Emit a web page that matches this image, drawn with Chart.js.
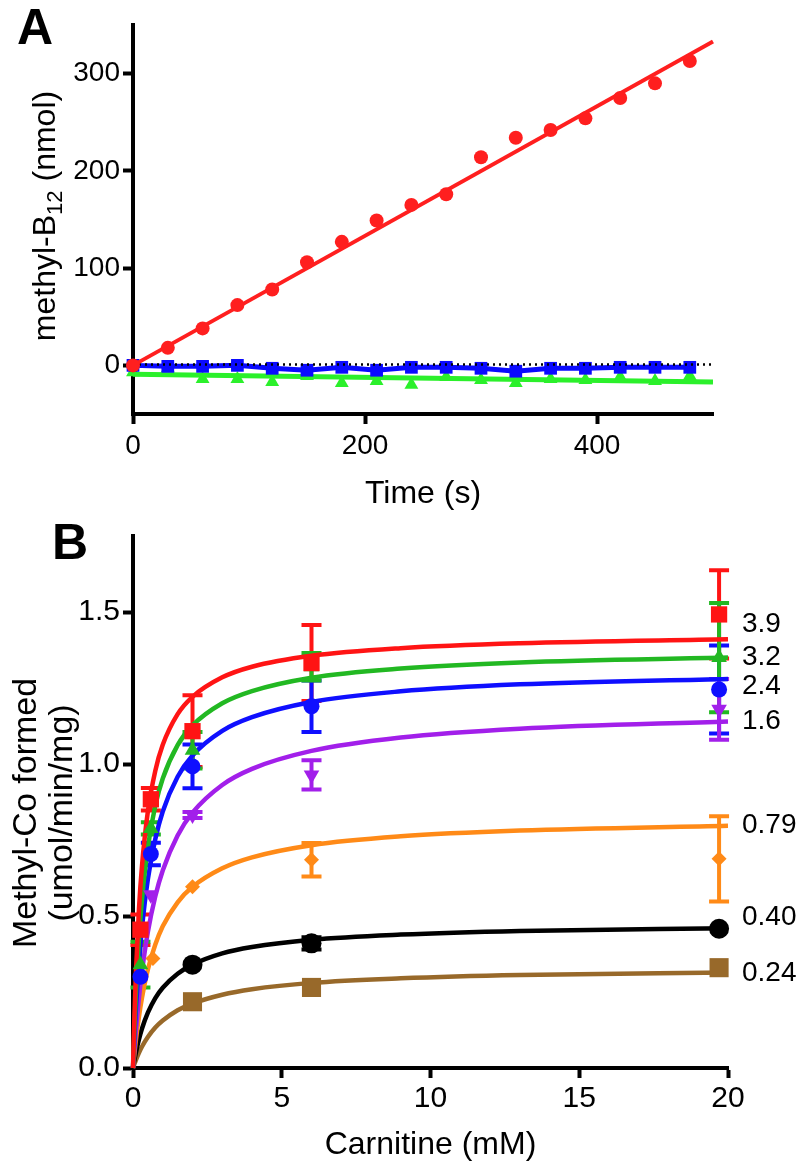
<!DOCTYPE html>
<html>
<head>
<meta charset="utf-8">
<script src="https://cdn.jsdelivr.net/npm/chart.js@4.4.0/dist/chart.umd.min.js"></script>
<style>
  body { margin: 0; background: #fff; width: 798px; height: 1162px; overflow: hidden; position: relative; }
  canvas { position: absolute; left: 0; }
  #chartA { top: 0; }
  #chartB { top: 515px; }
</style>
</head>
<body>
<canvas id="chartA" width="798" height="515"></canvas>
<canvas id="chartB" width="798" height="647"></canvas>
<script>
// ---- Panel A data: time course ----
const timeS = [0, 30, 60, 90, 120, 150, 180, 210, 240, 270, 300, 330, 360, 390, 420, 450, 480];
const redNmol = [0, 18, 38, 62, 78, 106, 127, 149, 165, 176, 214, 234, 242, 254, 275, 290, 313];
const blueNmol = [0, -1, -1, 0, -3, -5, -2, -5, -2, -2, -3, -6, -3, -3, -2, -2, -2];
const greenNmol = [-7, -3, -14, -14, -17, -11, -18, -16, -20, -12, -15, -18, -14, -15, -12, -16, -11];
const fitX = [0, 500];
const redFit = [0, 333];
const greenFit = [-9, -17];
const zeroLine = [1, 1];
const yTicksA = [0, 100, 200, 300];
const xTicksA = [0, 200, 400];

// ---- Panel B data: carnitine saturation ----
const concA = [0.25, 0.6, 2, 6, 19.7];
const red39 = [0.455, 0.884, 1.108, 1.332, 1.492];
const red39Err = [0.05, 0.037, 0.118, 0.125, 0.145];
const green32 = [0.34, 0.788, 1.045, 1.32, 1.35];
const green32Err = [0.075, 0.02, 0.06, 0.045, 0.18];
const blue24 = [0.30, 0.704, 0.992, 1.19, 1.245];
const blue24Err = [0, 0.037, 0.072, 0.085, 0.145];
const concP = [0.6, 2, 6, 19.7];
const purple16 = [0.57, 0.832, 0.964, 1.18];
const purple16Err = [0, 0.01, 0.048, 0.1];
const concO = [0.67, 2, 6, 19.7];
const orange079 = [0.36, 0.596, 0.685, 0.688];
const orange079Err = [0, 0, 0.055, 0.14];
const concK = [2, 6, 19.7];
const black040 = [0.34, 0.41, 0.458];
const black040Err = [0, 0.02, 0];
const brown024 = [0.218, 0.265, 0.33];

// fitted curves
const curveX = [0, 0.05, 0.1, 0.2, 0.3, 0.5, 0.75, 1, 1.5, 2, 3, 4, 6, 9, 13, 20];
const redCurve = [0, 0.179, 0.319, 0.522, 0.662, 0.844, 0.978, 1.063, 1.164, 1.221, 1.285, 1.320, 1.356, 1.381, 1.397, 1.410];
const greenCurve = [0, 0.138, 0.251, 0.425, 0.552, 0.726, 0.863, 0.952, 1.062, 1.127, 1.200, 1.240, 1.284, 1.314, 1.334, 1.350];
const blueCurve = [0, 0.108, 0.199, 0.346, 0.459, 0.621, 0.753, 0.844, 0.958, 1.028, 1.109, 1.154, 1.204, 1.239, 1.262, 1.280];
const purpleCurve = [0, 0.068, 0.128, 0.231, 0.316, 0.448, 0.565, 0.650, 0.765, 0.840, 0.931, 0.984, 1.043, 1.087, 1.116, 1.140];
const orangeCurve = [0, 0.050, 0.094, 0.169, 0.230, 0.324, 0.406, 0.466, 0.545, 0.596, 0.657, 0.693, 0.733, 0.762, 0.781, 0.797];
const blackCurve = [0, 0.028, 0.052, 0.094, 0.129, 0.182, 0.230, 0.264, 0.310, 0.340, 0.377, 0.398, 0.422, 0.439, 0.451, 0.460];
const brownCurve = [0, 0.014, 0.027, 0.050, 0.070, 0.102, 0.133, 0.156, 0.190, 0.212, 0.241, 0.259, 0.280, 0.295, 0.306, 0.314];

const endLabels = ['3.9', '3.2', '2.4', '1.6', '0.79', '0.40', '0.24'];
const endLabelY = [1.46, 1.35, 1.255, 1.14, 0.80, 0.495, 0.31];
const yTicksB = [0, 0.5, 1, 1.5];
const xTicksB = [0, 5, 10, 15, 20];

const FONT = "'Liberation Sans', Arial, Helvetica, sans-serif";
Chart.defaults.font.family = FONT;
Chart.defaults.color = '#000';

const pts = (xs, ys) => xs.map((x, i) => ({ x: x, y: ys[i] }));

function axisStyle(size, pad, cb) {
    const ticks = { font: { size: size }, color: '#000', padding: pad, maxRotation: 0, autoSkip: false };
    if (cb) ticks.callback = cb;
    return {
        grid: { display: true, drawOnChartArea: false, drawTicks: true, tickLength: 10, tickWidth: 4, tickColor: '#000' },
        border: { display: true, width: 4, color: '#000' },
        ticks: ticks
    };
}

// error bars drawn under the markers
const errorBars = {
    id: 'errorBars',
    beforeDatasetsDraw(chart) {
        const { ctx, scales: { x, y } } = chart;
        chart.data.datasets.forEach(ds => {
            if (!ds.errY) return;
            ctx.save();
            ctx.strokeStyle = ds.pointBackgroundColor;
            ctx.lineWidth = 4;
            ds.data.forEach((p, i) => {
                const e = ds.errY[i];
                if (!e) return;
                const px = x.getPixelForValue(p.x);
                const top = y.getPixelForValue(p.y + e);
                const bot = y.getPixelForValue(p.y - e);
                ctx.beginPath();
                ctx.moveTo(px, top); ctx.lineTo(px, bot);
                ctx.moveTo(px - 10, top); ctx.lineTo(px + 10, top);
                ctx.moveTo(px - 10, bot); ctx.lineTo(px + 10, bot);
                ctx.stroke();
            });
            ctx.restore();
        });
    }
};

// Panel A extras: letter and y title with subscript
const panelAText = {
    id: 'panelAText',
    afterDraw(chart) {
        const ctx = chart.ctx;
        ctx.save();
        ctx.fillStyle = '#000';
        ctx.font = 'bold 50px ' + FONT;
        ctx.textBaseline = 'alphabetic';
        ctx.fillText('A', 17, 44);

        ctx.translate(44, 216);
        ctx.rotate(-Math.PI / 2);
        const big = '32px ' + FONT, small = '22px ' + FONT;
        ctx.font = big;
        const w1 = ctx.measureText('methyl-B').width;
        const w3 = ctx.measureText(' (nmol)').width;
        ctx.font = small;
        const w2 = ctx.measureText('12').width;
        let sx = -(w1 + w2 + w3) / 2;
        ctx.font = big;
        ctx.fillText('methyl-B', sx, 11);
        ctx.font = small;
        ctx.fillText('12', sx + w1, 18);
        ctx.font = big;
        ctx.fillText(' (nmol)', sx + w1 + w2, 11);
        ctx.restore();
    }
};

new Chart(document.getElementById('chartA'), {
    type: 'scatter',
    data: {
        datasets: [
            { data: pts(timeS, redNmol), pointStyle: 'circle', pointRadius: 7, pointBackgroundColor: '#ff1f1f', pointBorderWidth: 0, showLine: false, clip: false },
            { data: pts(fitX, redFit), showLine: true, pointRadius: 0, borderColor: '#ff1f1f', borderWidth: 4, clip: false },
            { data: pts(fitX, zeroLine), showLine: true, pointRadius: 0, borderColor: '#000', borderWidth: 2.5, borderDash: [2, 4], clip: false },
            { data: pts(timeS, blueNmol), pointStyle: 'rect', pointRadius: 9, pointBackgroundColor: '#0a0aff', pointBorderWidth: 0, borderColor: '#0a0aff', borderWidth: 5, showLine: true, clip: false, tension: 0 },
            { data: pts(timeS, greenNmol), pointStyle: 'triangle', pointRadius: 8, pointBackgroundColor: '#2bf02b', pointBorderWidth: 0, showLine: false, clip: false },
            { data: pts(fitX, greenFit), showLine: true, pointRadius: 0, borderColor: '#2bf02b', borderWidth: 5, clip: false }
        ]
    },
    options: {
        responsive: false,
        animation: false,
        events: [],
        layout: { padding: { top: 25, right: 85, left: 0, bottom: 0 } },
        plugins: { legend: { display: false }, tooltip: { enabled: false } },
        scales: {
            x: Object.assign(axisStyle(28, 5), {
                type: 'linear', min: 0, max: 500,
                afterBuildTicks: s => { s.ticks = xTicksA.map(v => ({ value: v })); },
                afterFit: s => { s.height = 101; },
                title: { display: true, text: 'Time (s)', font: { size: 32, lineHeight: 1 }, padding: { top: 0, bottom: 5 }, color: '#000' }
            }),
            y: Object.assign(axisStyle(28, 3), {
                type: 'linear', min: -50, max: 350,
                afterBuildTicks: s => { s.ticks = yTicksA.map(v => ({ value: v })); },
                afterFit: s => { s.width = 133; }
            })
        }
    },
    plugins: [panelAText]
});

// Panel B extras: letter, two-line y title, curve labels
const panelBText = {
    id: 'panelBText',
    afterDraw(chart) {
        const { ctx, chartArea, scales: { y } } = chart;
        ctx.save();
        ctx.fillStyle = '#000';
        ctx.font = 'bold 50px ' + FONT;
        ctx.textBaseline = 'alphabetic';
        ctx.fillText('B', 52, 44);

        ctx.font = '28px ' + FONT;
        ctx.textAlign = 'left';
        ctx.textBaseline = 'middle';
        endLabels.forEach((t, i) => {
            ctx.fillText(t, chartArea.right + 14, y.getPixelForValue(endLabelY[i]));
        });

        ctx.save();
        ctx.translate(0, 298);
        ctx.rotate(-Math.PI / 2);
        ctx.font = '34px ' + FONT;
        ctx.textAlign = 'center';
        ctx.fillText('Methyl-Co formed', 0, 27);
        ctx.fillText('(umol/min/mg)', 0, 63);
        ctx.restore();
        ctx.restore();
    }
};

function curve(ys, color) {
    return { data: pts(curveX, ys), showLine: true, pointRadius: 0, borderColor: color, borderWidth: 4.5, cubicInterpolationMode: 'monotone', clip: false };
}
function marks(xs, ys, errs, color, style, r, rot) {
    return { data: pts(xs, ys), errY: errs, showLine: false, pointStyle: style, pointRadius: r, pointRotation: rot || 0, pointBackgroundColor: color, pointBorderWidth: 0, clip: false };
}

const cRed = '#ff1414', cGreen = '#22b822', cBlue = '#0f0fff', cPurple = '#a21fea', cOrange = '#ff8a17', cBlack = '#000000', cBrown = '#98692a';

new Chart(document.getElementById('chartB'), {
    type: 'scatter',
    data: {
        datasets: [
            marks(concA, red39, red39Err, cRed, 'rect', 11.5),
            marks(concA, blue24, blue24Err, cBlue, 'circle', 8),
            marks(concA, green32, green32Err, cGreen, 'triangle', 9),
            marks(concP, purple16, purple16Err, cPurple, 'triangle', 9, 180),
            marks(concO, orange079, orange079Err, cOrange, 'rectRot', 7.5),
            marks(concK, black040, black040Err, cBlack, 'circle', 10),
            marks(concK, brown024, null, cBrown, 'rect', 13.5),
            curve(redCurve, cRed),
            curve(greenCurve, cGreen),
            curve(blueCurve, cBlue),
            curve(purpleCurve, cPurple),
            curve(orangeCurve, cOrange),
            curve(blackCurve, cBlack),
            curve(brownCurve, cBrown)
        ]
    },
    options: {
        responsive: false,
        animation: false,
        events: [],
        layout: { padding: { top: 10, right: 70, left: 0, bottom: 0 } },
        plugins: { legend: { display: false }, tooltip: { enabled: false } },
        scales: {
            x: Object.assign(axisStyle(30, 3), {
                type: 'linear', min: 0, max: 20,
                afterBuildTicks: s => { s.ticks = xTicksB.map(v => ({ value: v })); },
                afterFit: s => { s.height = 94; },
                title: { display: true, text: 'Carnitine (mM)', font: { size: 32, lineHeight: 1 }, padding: { top: 0, bottom: 1 }, color: '#000' }
            }),
            y: Object.assign(axisStyle(30, 3, v => v.toFixed(1)), {
                type: 'linear', min: 0, max: 1.75,
                afterBuildTicks: s => { s.ticks = yTicksB.map(v => ({ value: v })); },
                afterFit: s => { s.width = 133; }
            })
        }
    },
    plugins: [errorBars, panelBText]
});
</script>
</body>
</html>
